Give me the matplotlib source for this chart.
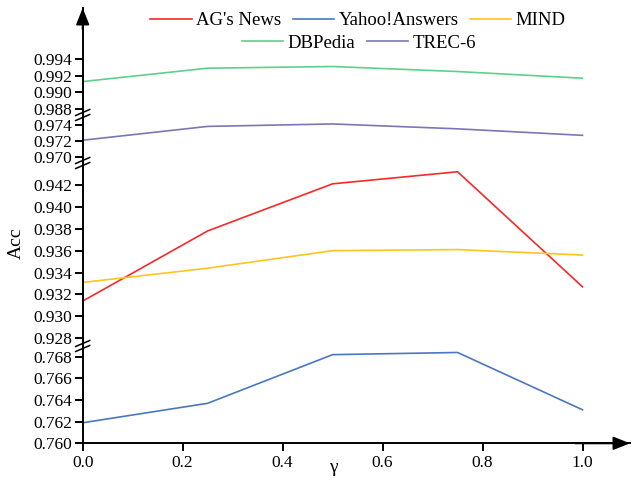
import matplotlib.pyplot as plt
from matplotlib.lines import Line2D

plt.rcParams['font.family'] = ['Liberation Serif', 'DejaVu Serif']

gamma = [0.0, 0.25, 0.5, 0.75, 1.0]
ag_news = [0.9314, 0.9378, 0.9421, 0.9432, 0.9327]
yahoo = [0.7619, 0.7637, 0.7682, 0.7684, 0.7631]
mind = [0.9331, 0.9344, 0.9360, 0.9361, 0.9356]
dbpedia = [0.9913, 0.9929, 0.9931, 0.9925, 0.9917]
trec6 = [0.9721, 0.9738, 0.9741, 0.9735, 0.9727]

x_ticks = [0.0, 0.2, 0.4, 0.6, 0.8, 1.0]
ticks_top = [0.988, 0.990, 0.992, 0.994]
ticks_trec = [0.970, 0.972, 0.974]
ticks_mid = [0.928, 0.930, 0.932, 0.934, 0.936, 0.938, 0.940, 0.942]
ticks_low = [0.760, 0.762, 0.764, 0.766, 0.768]

c_ag, c_yahoo, c_mind = '#f52a2a', '#4a78bd', '#ffc41f'
c_db, c_trec = '#5cd18c', '#7a78b4'

W, H = 632, 494
fig = plt.figure(figsize=(W / 100, H / 100), dpi=100)

left_px, right_px = 82.7, 630
# segment boundaries in pixels from top
bounds = [8, 115, 163, 346, 443.3]
ylims = [(0.9873, 1.0001), (0.9693, 0.9752), (0.9273, 0.944), (0.760, 0.7690)]
yticks = [ticks_top, ticks_trec, ticks_mid, ticks_low]
series = [
    [(dbpedia, c_db)],
    [(trec6, c_trec)],
    [(ag_news, c_ag), (mind, c_mind)],
    [(yahoo, c_yahoo)],
]

axes = []
for i in range(4):
    top, bot = bounds[i], bounds[i + 1]
    ax = fig.add_axes([left_px / W, 1 - bot / H, (right_px - left_px) / W, (bot - top) / H])
    for data, col in series[i]:
        ax.plot(gamma, data, color=col, lw=1.2)
    ax.set_xlim(0, 1.095)
    ax.set_ylim(*ylims[i])
    ax.set_yticks(yticks[i])
    ax.set_yticklabels(['%.3f' % v for v in yticks[i]])
    ax.patch.set_visible(False)
    for s in ['top', 'right']:
        ax.spines[s].set_visible(False)
    ax.spines['left'].set_linewidth(1.4)
    ax.tick_params(axis='y', length=5.5, width=1.4, labelsize=12.5, pad=2)
    if i < 3:
        ax.spines['bottom'].set_visible(False)
        ax.set_xticks([])
    else:
        ax.spines['bottom'].set_linewidth(1.4)
        ax.set_xticks(x_ticks)
        ax.set_xticklabels(['%.1f' % v for v in x_ticks])
        ax.tick_params(axis='x', length=5.5, width=1.4, labelsize=12.5, pad=3)
    axes.append(ax)

# arrows
arrow = dict(arrowstyle='-|>,head_length=1.0,head_width=0.4', color='black',
             lw=1.4, shrinkA=0, shrinkB=0, mutation_scale=10)
axes[0].annotate('', xy=(0, 1), xytext=(0, 0.8), xycoords='axes fraction', arrowprops=arrow)
axes[3].annotate('', xy=(1, 0), xytext=(0.9, 0), xycoords='axes fraction', arrowprops=arrow)

# break marks
for yb in bounds[1:4]:
    for d in (-2.5, 2.5):
        y = yb + d
        fig.add_artist(Line2D([(left_px - 7) / W, (left_px + 7) / W],
                              [1 - (y + 3) / H, 1 - (y - 3) / H],
                              color='black', lw=1.1, transform=fig.transFigure))

fig.text(16 / W, 1 - 243 / H, 'Acc', rotation=90, ha='center', va='center', fontsize=14)
fig.text(333 / W, 1 - 468 / H, 'γ', ha='center', va='center', fontsize=14)

h1 = [Line2D([], [], color=c, lw=1.2) for c in (c_ag, c_yahoo, c_mind)]
h2 = [Line2D([], [], color=c, lw=1.2) for c in (c_db, c_trec)]
leg_kw = dict(frameon=False, fontsize=13.5, handlelength=2.2, handletextpad=0.25,
              columnspacing=0.6, borderpad=0, borderaxespad=0)
leg1 = fig.legend(h1, ["AG's News", 'Yahoo!Answers', 'MIND'], ncol=3,
                  loc='center', bbox_to_anchor=(358 / W, 1 - 20.7 / H), **leg_kw)
fig.legend(h2, ['DBPedia', 'TREC-6'], ncol=2,
           loc='center', bbox_to_anchor=(359 / W, 1 - 43.3 / H), **leg_kw)

fig.savefig('out.png', dpi=100)
